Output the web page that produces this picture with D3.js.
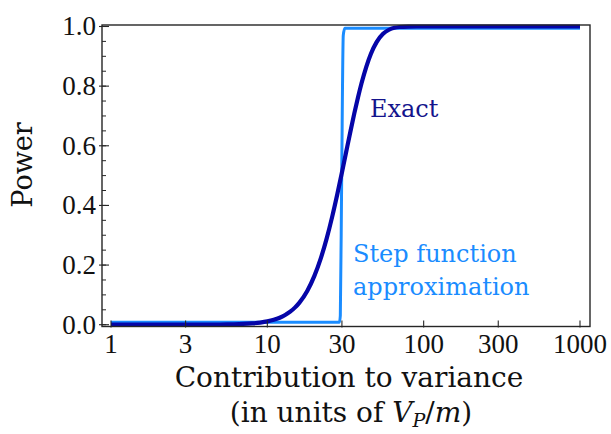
<!DOCTYPE html>
<html><head><meta charset="utf-8">
<script src="https://cdn.jsdelivr.net/npm/d3@7/dist/d3.min.js"></script>
<style>html,body{margin:0;padding:0;background:#fff;}</style>
</head><body><svg id="c" width="611" height="434"></svg>
<script>
// ---- data ----
const exactX = [1, 2, 3, 4, 5, 6, 7, 8, 9, 10, 11, 12, 13, 14, 15, 16, 18, 20, 22, 24, 26, 28, 30, 32, 34, 36, 38, 40, 43, 46, 50, 55, 60, 65, 70, 80, 90, 100, 200, 1000];
const exactY = [0, 0, 0.0001, 0.0003, 0.0007, 0.0014, 0.0025, 0.0044, 0.0071, 0.011, 0.0164, 0.0235, 0.0325, 0.0437, 0.0573, 0.0734, 0.1134, 0.1638, 0.2233, 0.2904, 0.3624, 0.4365, 0.5104, 0.5816, 0.648, 0.7085, 0.762, 0.8087, 0.8656, 0.9084, 0.9474, 0.9753, 0.9891, 0.9955, 0.9982, 0.9998, 1, 1, 1, 1];
const stepX = [1, 28.9, 29.3, 29.9, 30.6, 31.3, 1000];
const stepY = [0.008, 0.008, 0.03, 0.5, 0.97, 0.994, 0.994];
const xTicks = [1, 3, 10, 30, 100, 300, 1000];
const xTickLabels = ["1", "3", "10", "30", "100", "300", "1000"];
const yTicks = [0, 0.2, 0.4, 0.6, 0.8, 1.0];
const yTickLabels = ["0.0", "0.2", "0.4", "0.6", "0.8", "1.0"];
const yMinorTicks = d3.range(0, 1.0001, 0.05);
const seriesNames = ["Exact", "Step function", "approximation"];

// ---- layout ----
const svg = d3.select("#c");
const frame = {left: 102, right: 590, top: 25, bottom: 326.5};
const x = d3.scaleLog().domain([1, 1000]).range([111, 580]);
const y = d3.scaleLinear().domain([-0.006, 1.005]).range([frame.bottom, frame.top]);

const darkBlue = "#0505a8";
const lightBlue = "#1a8cff";
const serif = "'Liberation Serif', 'Times New Roman', serif";
const labelFont = "'DejaVu Serif', serif";

const clip = svg.append("clipPath").attr("id", "pc").append("rect")
  .attr("x", frame.left).attr("y", frame.top - 3)
  .attr("width", frame.right - frame.left).attr("height", frame.bottom - frame.top + 3);

// curves
const line = d3.line().x(d => x(d[0])).y(d => y(d[1])).curve(d3.curveMonotoneX);
const stepLine = d3.line().x(d => x(d[0])).y(d => y(d[1])).curve(d3.curveMonotoneX);

svg.append("path")
  .datum(stepX.map((v, i) => [v, stepY[i]]))
  .attr("d", stepLine).attr("fill", "none").attr("stroke", lightBlue)
  .attr("stroke-width", 3).attr("stroke-linejoin", "round").attr("clip-path", "url(#pc)");

svg.append("path")
  .datum(exactX.map((v, i) => [v, exactY[i]]))
  .attr("d", line).attr("fill", "none").attr("stroke", darkBlue)
  .attr("stroke-width", 4.2).attr("stroke-linejoin", "round").attr("clip-path", "url(#pc)");

// frame
svg.append("rect")
  .attr("x", frame.left).attr("y", frame.top)
  .attr("width", frame.right - frame.left).attr("height", frame.bottom - frame.top)
  .attr("fill", "none").attr("stroke", "#262626").attr("stroke-width", 1.4);

// y ticks
const gy = svg.append("g");
gy.selectAll("line.minor").data(yMinorTicks).join("line")
  .attr("x1", frame.left).attr("x2", frame.left + 4)
  .attr("y1", d => y(d)).attr("y2", d => y(d))
  .attr("stroke", "#262626").attr("stroke-width", 1);
gy.selectAll("line.major").data(yTicks).join("line")
  .attr("x1", frame.left - 3).attr("x2", frame.left + 7)
  .attr("y1", d => y(d)).attr("y2", d => y(d))
  .attr("stroke", "#262626").attr("stroke-width", 1.1);
gy.selectAll("text").data(yTicks).join("text")
  .attr("x", 96).attr("y", d => y(d) + 9)
  .attr("text-anchor", "end")
  .attr("font-family", serif).attr("font-size", 27).attr("fill", "#111")
  .text((d, i) => yTickLabels[i]);

// x ticks
const gx = svg.append("g");
gx.selectAll("line").data(xTicks).join("line")
  .attr("x1", d => x(d)).attr("x2", d => x(d))
  .attr("y1", frame.bottom + 1).attr("y2", frame.bottom - 6)
  .attr("stroke", "#262626").attr("stroke-width", 1.1);
gx.selectAll("text").data(xTicks).join("text")
  .attr("x", d => x(d)).attr("y", 353)
  .attr("text-anchor", "middle")
  .attr("font-family", serif).attr("font-size", 27).attr("fill", "#111")
  .text((d, i) => xTickLabels[i]);

// axis labels
svg.append("text")
  .attr("transform", "translate(32,165) rotate(-90)")
  .attr("text-anchor", "middle")
  .attr("font-family", labelFont).attr("font-size", 27).attr("fill", "#111")
  .text("Power");

svg.append("text")
  .attr("x", 349).attr("y", 387).attr("text-anchor", "middle")
  .attr("font-family", labelFont).attr("font-size", 28).attr("fill", "#111")
  .text("Contribution to variance");

const l2 = svg.append("text")
  .attr("x", 351).attr("y", 422).attr("text-anchor", "middle")
  .attr("font-family", labelFont).attr("font-size", 28).attr("fill", "#111");
l2.append("tspan").text("(in units of ");
l2.append("tspan").attr("font-style", "italic").text("V");
l2.append("tspan").attr("font-style", "italic").attr("font-size", 19).attr("dy", 5).text("P");
l2.append("tspan").attr("dy", -5).text("/");
l2.append("tspan").attr("font-style", "italic").text("m");
l2.append("tspan").text(")");

// series annotations
svg.append("text").attr("x", 370).attr("y", 117)
  .attr("font-family", labelFont).attr("font-size", 24).attr("fill", "#14148c")
  .text(seriesNames[0]);
svg.append("text").attr("x", 353).attr("y", 262)
  .attr("font-family", labelFont).attr("font-size", 24).attr("fill", lightBlue)
  .text(seriesNames[1]);
svg.append("text").attr("x", 353).attr("y", 295)
  .attr("font-family", labelFont).attr("font-size", 24).attr("fill", lightBlue)
  .text(seriesNames[2]);
</script>
</body></html>
